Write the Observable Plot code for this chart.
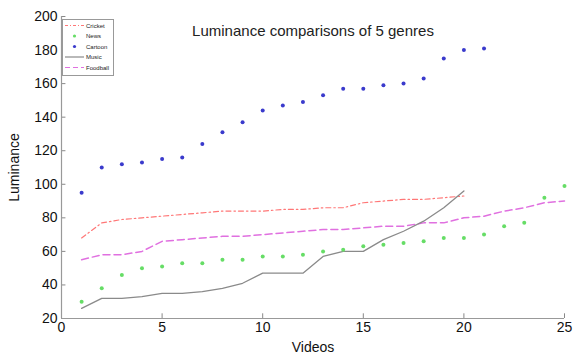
<!DOCTYPE html>
<html>
<head>
<meta charset="utf-8">
<script src="https://cdn.jsdelivr.net/npm/d3@7"></script>
<script src="https://cdn.jsdelivr.net/npm/@observablehq/plot@0.6"></script>
<style>
  html, body { margin: 0; padding: 0; background: #fff; }
  #wrap { position: relative; width: 576px; height: 354px; font-family: "Liberation Sans", Arial, Helvetica, sans-serif; }
  #legend { position: absolute; left: 62px; top: 19px; }
</style>
</head>
<body>
<div id="wrap"></div>
<script>
const videos = d3.range(1, 26);
const cricket  = [68, 77, 79, 80, 81, 82, 83, 84, 84, 84, 85, 85, 86, 86, 89, 90, 91, 91, 92, 93];
const news     = [30, 38, 46, 50, 51, 53, 53, 55, 55, 57, 57, 58, 60, 61, 63, 64, 65, 66, 68, 68, 70, 75, 77, 92, 99];
const cartoon  = [95, 110, 112, 113, 115, 116, 124, 131, 137, 144, 147, 149, 153, 157, 157, 159, 160, 163, 175, 180, 181];
const music    = [26, 32, 32, 33, 35, 35, 36, 38, 41, 47, 47, 47, 57, 60, 60, 67, 72, 78, 86, 96];
const football = [55, 58, 58, 60, 66, 67, 68, 69, 69, 70, 71, 72, 73, 73, 74, 75, 75, 77, 77, 80, 81, 84, 86, 89, 90];
const xTicks = [0, 5, 10, 15, 20, 25];
const yTicks = [20, 40, 60, 80, 100, 120, 140, 160, 180, 200];
const seriesNames = ["Cricket", "News", "Cartoon", "Music", "Foodball"];
const titleText = "Luminance comparisons of 5 genres";

const toRows = arr => arr.map((v, i) => ({x: videos[i], y: v}));
const C = {cricket: "#ff7777", news: "#66dd66", cartoon: "#3a3acc", music: "#8a8a8a", football: "#e070e0"};

const chart = Plot.plot({
  width: 576,
  height: 354,
  marginLeft: 61,
  marginRight: 12,
  marginTop: 16,
  marginBottom: 36,
  style: {fontFamily: "Liberation Sans, Arial, Helvetica, sans-serif", fontSize: "13px", color: "#111", background: "#fff"},
  x: {domain: [0, 25]},
  y: {domain: [20, 200]},
  marks: [
    Plot.axisX({ticks: xTicks, tickSize: 0, tickPadding: 4, fontSize: 14, label: "Videos", labelAnchor: "center", labelOffset: 33, labelArrow: "none"}),
    Plot.axisY({ticks: yTicks, tickSize: 0, tickPadding: 4, fontSize: 14, label: "Luminance", labelAnchor: "center", labelOffset: 52, labelArrow: "none"}),
    Plot.ruleX(xTicks, {x: d => d, y1: 20, y2: 22.8, stroke: "#888"}),
    Plot.ruleY(yTicks, {y: d => d, x1: 0, x2: 0.22, stroke: "#888"}),
    Plot.ruleX([0], {stroke: "#999", strokeWidth: 1.2}),
    Plot.ruleY([20], {stroke: "#999", strokeWidth: 1.2}),
    Plot.line(toRows(football), {x: "x", y: "y", stroke: C.football, strokeWidth: 1.5, strokeDasharray: "7,4"}),
    Plot.line(toRows(cricket), {x: "x", y: "y", stroke: C.cricket, strokeWidth: 1.2, strokeDasharray: "5,3,1.5,3"}),
    Plot.line(toRows(music), {x: "x", y: "y", stroke: C.music, strokeWidth: 1.3}),
    Plot.dot(toRows(news), {x: "x", y: "y", fill: C.news, r: 2}),
    Plot.dot(toRows(cartoon), {x: "x", y: "y", fill: C.cartoon, r: 2}),
    Plot.text([titleText], {frameAnchor: "top", dy: 9, fontSize: 15, fill: "#222", text: d => d})
  ]
});

const wrap = document.getElementById("wrap");
wrap.appendChild(chart);

// legend
const ns = "http://www.w3.org/2000/svg";
const lg = document.createElementNS(ns, "svg");
lg.setAttribute("id", "legend");
lg.setAttribute("width", 52);
lg.setAttribute("height", 57);
const box = document.createElementNS(ns, "rect");
box.setAttribute("x", 0.5); box.setAttribute("y", 0.5);
box.setAttribute("width", 51); box.setAttribute("height", 56);
box.setAttribute("fill", "#fff"); box.setAttribute("stroke", "#999");
lg.appendChild(box);
const styles = [
  {type: "line", color: C.cricket, dash: "3,2,1,2"},
  {type: "dot", color: C.news},
  {type: "dot", color: C.cartoon},
  {type: "line", color: C.music, dash: null},
  {type: "line", color: C.football, dash: "5,3"}
];
seriesNames.forEach((name, i) => {
  const cy = 6.5 + i * 10.5;
  const s = styles[i];
  if (s.type === "line") {
    const l = document.createElementNS(ns, "line");
    l.setAttribute("x1", 3); l.setAttribute("x2", 22);
    l.setAttribute("y1", cy); l.setAttribute("y2", cy);
    l.setAttribute("stroke", s.color); l.setAttribute("stroke-width", 1.2);
    if (s.dash) l.setAttribute("stroke-dasharray", s.dash);
    lg.appendChild(l);
  } else {
    const c = document.createElementNS(ns, "circle");
    c.setAttribute("cx", 12.5); c.setAttribute("cy", cy); c.setAttribute("r", 1.6);
    c.setAttribute("fill", s.color);
    lg.appendChild(c);
  }
  const t = document.createElementNS(ns, "text");
  t.setAttribute("x", 24); t.setAttribute("y", cy + 2);
  t.setAttribute("font-size", 6);
  t.setAttribute("font-family", "Liberation Sans, Arial, sans-serif");
  t.setAttribute("fill", "#222");
  t.textContent = name;
  lg.appendChild(t);
});
wrap.appendChild(lg);
</script>
</body>
</html>
